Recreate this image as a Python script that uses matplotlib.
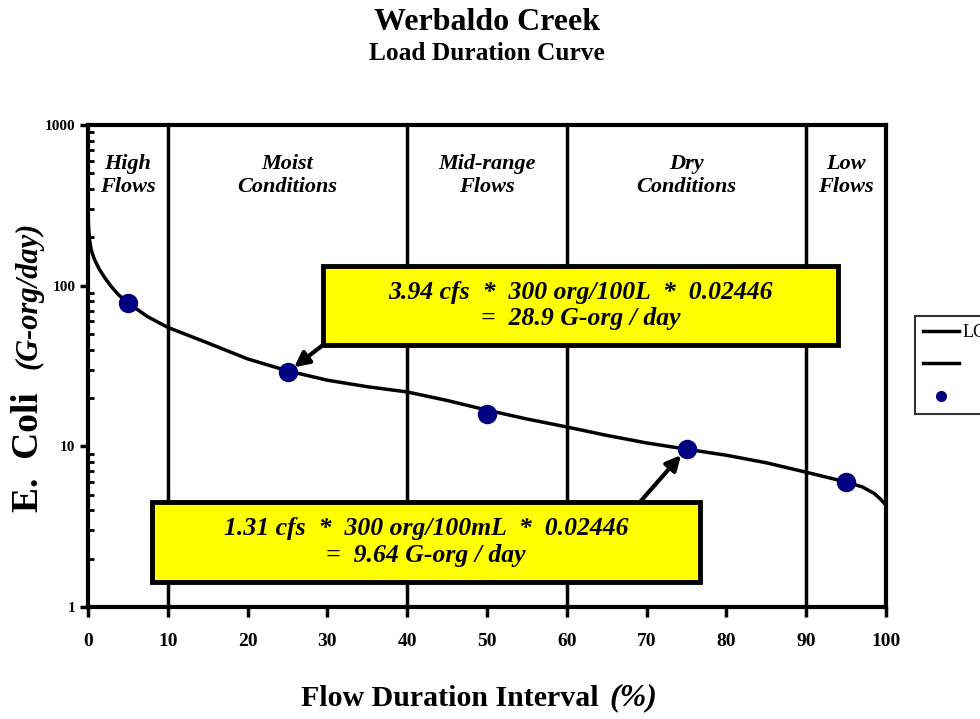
import matplotlib
matplotlib.use("Agg")
import matplotlib.pyplot as plt
from matplotlib.patches import Rectangle
from matplotlib.lines import Line2D

# Curva de duração de carga
flow_pct = [0, 0.08, 0.2, 0.4, 0.8, 1.4, 2.1, 2.9, 3.8, 5, 7.5, 10, 15, 20, 25,
            30, 35, 40, 45, 50, 55, 60, 65, 70, 75, 80, 85, 90, 95, 97, 98.5,
            99.3, 100]
load = [282, 227, 192, 167, 146, 127, 112, 99, 88, 78, 64, 55, 44, 35, 29.5,
        25.8, 23.5, 21.8, 19.3, 16.8, 14.8, 13.2, 11.7, 10.5, 9.6, 8.8, 7.9,
        6.9, 6.0, 5.6, 5.1, 4.7, 4.3]

# Pontos amostrados
pt_x = [5, 25, 50, 75, 95]
pt_y = [78, 28.9, 16, 9.64, 6]

# Limites das zonas de vazão e rótulos
zone_bounds = [10, 40, 60, 90]
zone_centers = [5, 25, 50, 75, 95]
zone_labels = ["High\nFlows", "Moist\nConditions", "Mid-range\nFlows",
               "Dry\nConditions", "Low\nFlows"]

x_ticks = list(range(0, 101, 10))
y_ticks = [1, 10, 100, 1000]

serif = "Liberation Serif"

fig = plt.figure(figsize=(9.8, 7.19), dpi=100)
ax = fig.add_axes([88 / 980, 1 - 607 / 719, 798 / 980, 482 / 719])

ax.plot(flow_pct, load, color="black", lw=2.5, zorder=3)
ax.plot(pt_x, pt_y, "o", color="#000080", markersize=13, zorder=4)

for b in zone_bounds:
    ax.axvline(b, color="black", lw=2.5, zorder=2)

for xc, lab in zip(zone_centers, zone_labels):
    ax.text(xc, 0.896, lab, transform=ax.get_xaxis_transform(), ha="center",
            va="center", fontsize=16, fontweight="bold", style="italic",
            family=serif, linespacing=1.2)

ax.set_yscale("log")
ax.set_xlim(0, 100)
ax.set_ylim(1, 1000)
ax.set_xticks(x_ticks)
ax.set_xticklabels([str(t) for t in x_ticks])
ax.set_yticks(y_ticks)
ax.set_yticklabels([str(t) for t in y_ticks])

for s in ax.spines.values():
    s.set_linewidth(3)

ax.tick_params(axis="x", direction="out", length=7, width=2.5, pad=12)
ax.tick_params(axis="y", which="major", direction="out", length=6, width=2.5, pad=3)
ax.tick_params(axis="y", which="minor", direction="in", length=4, width=2)
for lab in ax.get_xticklabels():
    lab.set_fontfamily(serif)
    lab.set_fontweight("bold")
    lab.set_fontsize(14)
for lab in ax.get_yticklabels():
    lab.set_fontfamily(serif)
    lab.set_fontweight("bold")
    lab.set_fontsize(11)

# Caixas de anotação
boxes = [
    ((323, 266, 838, 345), "3.94 cfs  *  300 org/100L  *  0.02446\n=  28.9 G-org / day",
     (323, 345), (25, 28.9)),
    ((152, 502, 700, 582), "1.31 cfs  *  300 org/100mL  *  0.02446\n=  9.64 G-org / day",
     (640, 502), (75, 9.64)),
]
for (x0, y0, x1, y1), txt, start, target in boxes:
    rect = Rectangle((x0 / 980, 1 - y1 / 719), (x1 - x0) / 980, (y1 - y0) / 719,
                     transform=fig.transFigure, facecolor="#ffff00",
                     edgecolor="black", lw=3.5, zorder=6)
    fig.patches.append(rect)
    fig.text((x0 + x1) / 2 / 980, 1 - (y0 + y1) / 2 / 719, txt, ha="center",
             va="center", fontsize=18.5, fontweight="bold", style="italic",
             family=serif, linespacing=1.2, zorder=7)
    ax.annotate("", xy=target, xycoords="data",
                xytext=(start[0] / 980, 1 - start[1] / 719),
                textcoords="figure fraction",
                arrowprops=dict(arrowstyle="-|>", color="black", lw=3,
                                mutation_scale=22, shrinkA=0, shrinkB=6),
                zorder=5)

# Títulos
fig.text(0.497, 1 - 22 / 719, "Werbaldo Creek", ha="center", va="center",
         fontsize=23, fontweight="bold", family=serif)
fig.text(0.497, 1 - 54 / 719, "Load Duration Curve", ha="center", va="center",
         fontsize=18.3, fontweight="bold", family=serif)

# Rótulos dos eixos
fig.text(28 / 980, 1 - 452 / 719, "E.  Coli", rotation=90, ha="center",
         va="center", fontsize=27, fontweight="bold", family=serif)
fig.text(29 / 980, 1 - 295 / 719, "(G-org/day)", rotation=90, ha="center",
         va="center", fontsize=22, fontweight="bold", style="italic", family=serif)
fig.text(606 / 980, 1 - 698 / 719, "Flow Duration Interval ", ha="right",
         va="center", fontsize=21.5, fontweight="bold", family=serif)
fig.text(609 / 980, 1 - 698 / 719, "(%)", ha="left", va="center",
         fontsize=23, fontweight="bold", style="italic", family=serif)

# Legenda (cortada na borda da figura)
handles = [Line2D([], [], color="black", lw=2.5),
           Line2D([], [], color="black", lw=2.5),
           Line2D([], [], marker="o", ls="none", color="#000080", markersize=7)]
leg = fig.legend(handles, ["LC", "", ""], loc="upper left",
                 bbox_to_anchor=(915 / 980, 1 - 316 / 719), frameon=True,
                 fancybox=False, edgecolor="black",
                 prop={"family": serif, "size": 13}, handlelength=2.0,
                 handletextpad=0.2, labelspacing=0.85, borderpad=0.45,
                 borderaxespad=0)
leg.get_frame().set_linewidth(1.5)

fig.savefig("out.png", dpi=100)
